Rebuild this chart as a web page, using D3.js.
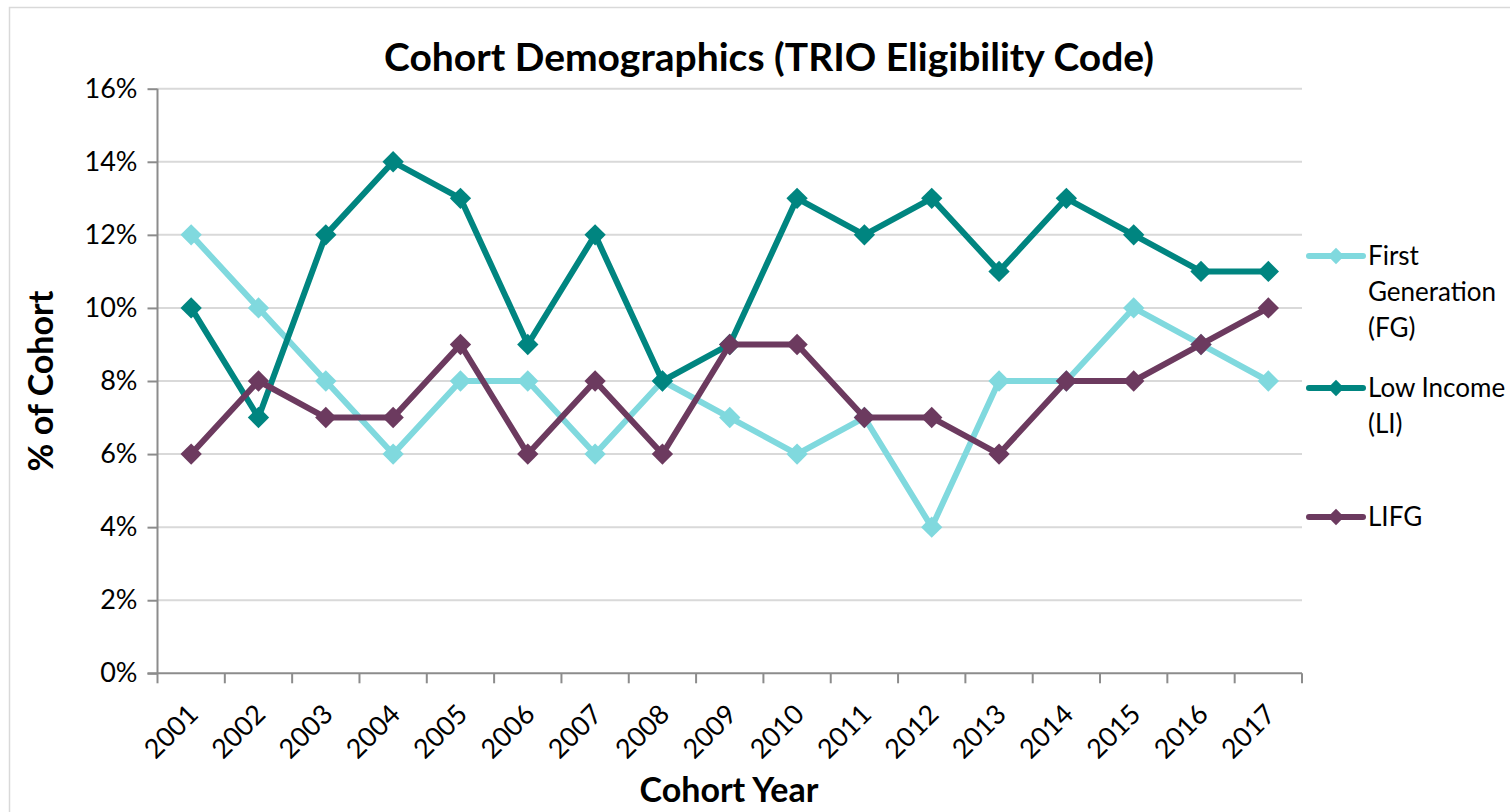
<!DOCTYPE html>
<html>
<head>
<meta charset="utf-8">
<script src="https://cdn.jsdelivr.net/npm/d3@7"></script>
<style>
  body { margin: 0; background: #fff; }
  svg { display: block; font-family: "Lato", "Open Sans", sans-serif; }
  svg text { font-family: "Lato", "Open Sans", sans-serif; }
</style>
</head>
<body>
<script>
// data
var years = ["2001", "2002", "2003", "2004", "2005", "2006", "2007", "2008", "2009",
             "2010", "2011", "2012", "2013", "2014", "2015", "2016", "2017"];
var firstGen  = [12, 10, 8, 6, 8, 8, 6, 8, 7, 6, 7, 4, 8, 8, 10, 9, 8];
var lowIncome = [10, 7, 12, 14, 13, 9, 12, 8, 9, 13, 12, 13, 11, 13, 12, 11, 11];
var lifg      = [6, 8, 7, 7, 9, 6, 8, 6, 9, 9, 7, 7, 6, 8, 8, 9, 10];
var yTicks = [0, 2, 4, 6, 8, 10, 12, 14, 16];

var series = [
  { name: ["First", "Generation", "(FG)"], values: firstGen, color: "#80d9de" },
  { name: ["Low Income", "(LI)"], values: lowIncome, color: "#008580" },
  { name: ["LIFG"], values: lifg, color: "#6c3a5f" }
];

var breedte = 1510, hoogte = 812;
var marge = { links: 157.5, rechts: 208, boven: 88.7, beneden: 138.7 };

var svg = d3.select("body").append("svg")
    .attr("width", breedte)
    .attr("height", hoogte);

// kader rond de grafiek
svg.append("rect")
   .attr("x", 9.5).attr("y", 7.5)
   .attr("width", breedte).attr("height", hoogte)
   .attr("fill", "none")
   .attr("stroke", "#d9d9d9")
   .attr("stroke-width", 1.5);

var x = d3.scaleBand()
    .domain(years)
    .range([marge.links, breedte - marge.rechts]);

var y = d3.scaleLinear()
    .domain([0, 16])
    .range([hoogte - marge.beneden, marge.boven]);

// rasterlijnen
svg.append("g")
   .selectAll("line")
   .data(yTicks.filter(function(d) { return d > 0; }))
   .enter().append("line")
   .attr("x1", marge.links).attr("x2", breedte - marge.rechts)
   .attr("y1", function(d) { return y(d); })
   .attr("y2", function(d) { return y(d); })
   .attr("stroke", "#d9d9d9")
   .attr("stroke-width", 2);

// y-as
var asY = d3.axisLeft(y)
    .tickValues(yTicks)
    .tickFormat(function(d) { return d + "%"; })
    .tickSize(10)
    .tickPadding(10);

var gY = svg.append("g")
   .attr("transform", "translate(" + marge.links + ",0)")
   .call(asY);
gY.attr("font-family", null);
gY.select(".domain").attr("stroke", "#8c8c8c").attr("stroke-width", 2).attr("d", "M0," + y(16) + "V" + y(0));
gY.selectAll(".tick line").attr("stroke", "#8c8c8c").attr("stroke-width", 2);
gY.selectAll(".tick text").attr("font-size", "27px").attr("fill", "#000");

// x-as met streepjes tussen de categorieen
var gX = svg.append("g")
   .attr("transform", "translate(0," + y(0) + ")");
gX.append("line")
   .attr("x1", marge.links - 10).attr("x2", breedte - marge.rechts)
   .attr("stroke", "#8c8c8c").attr("stroke-width", 2);
var grenzen = years.map(function(d) { return x(d); }).concat([x(years[years.length - 1]) + x.bandwidth()]);
gX.selectAll(".grens")
   .data(grenzen)
   .enter().append("line")
   .attr("class", "grens")
   .attr("x1", function(d) { return d; }).attr("x2", function(d) { return d; })
   .attr("y1", 0).attr("y2", 10)
   .attr("stroke", "#8c8c8c").attr("stroke-width", 2);
gX.selectAll(".jaar")
   .data(years)
   .enter().append("text")
   .attr("class", "jaar")
   .attr("transform", function(d) {
     return "translate(" + (x(d) + x.bandwidth() / 2 + 2) + ",36) rotate(-45)";
   })
   .attr("text-anchor", "end")
   .attr("dy", "0.35em")
   .attr("font-size", "27px")
   .text(function(d) { return d; });

// lijnen en markers
var lijn = d3.line()
    .x(function(d, i) { return x(years[i]) + x.bandwidth() / 2; })
    .y(function(d) { return y(d); });

var ruit = d3.symbol().type(d3.symbolDiamond2).size(290);

series.forEach(function(s) {
  var g = svg.append("g");
  g.append("path")
   .datum(s.values)
   .attr("d", lijn)
   .attr("fill", "none")
   .attr("stroke", s.color)
   .attr("stroke-width", 6)
   .attr("stroke-linejoin", "round");
  g.selectAll("path.ruit")
   .data(s.values)
   .enter().append("path")
   .attr("class", "ruit")
   .attr("d", ruit)
   .attr("transform", function(d, i) {
     return "translate(" + (x(years[i]) + x.bandwidth() / 2) + "," + y(d) + ")";
   })
   .attr("fill", s.color);
});

// legenda
var legendaY = [256, 388, 517];
var legenda = svg.append("g");
series.forEach(function(s, i) {
  var ly = legendaY[i];
  legenda.append("line")
     .attr("x1", 1309).attr("x2", 1363)
     .attr("y1", ly).attr("y2", ly)
     .attr("stroke", s.color).attr("stroke-width", 6)
     .attr("stroke-linecap", "round");
  legenda.append("path")
     .attr("d", d3.symbol().type(d3.symbolDiamond2).size(170))
     .attr("transform", "translate(1336," + ly + ")")
     .attr("fill", s.color);
  s.name.forEach(function(regel, j) {
    legenda.append("text")
       .attr("x", 1368)
       .attr("y", ly + j * 36)
       .attr("dy", "0.35em")
       .attr("font-size", "26px")
       .text(regel);
  });
});

// titels
svg.append("text")
   .attr("x", 769).attr("y", 71)
   .attr("text-anchor", "middle")
   .attr("font-size", "39px")
   .attr("font-weight", "bold")
   .text("Cohort Demographics (TRIO Eligibility Code)");

svg.append("text")
   .attr("x", 729).attr("y", 802)
   .attr("text-anchor", "middle")
   .attr("font-size", "34px")
   .attr("font-weight", "bold")
   .text("Cohort Year");

svg.append("text")
   .attr("transform", "translate(53,381) rotate(-90)")
   .attr("text-anchor", "middle")
   .attr("font-size", "34px")
   .attr("font-weight", "bold")
   .text("% of Cohort");
</script>
</body>
</html>
